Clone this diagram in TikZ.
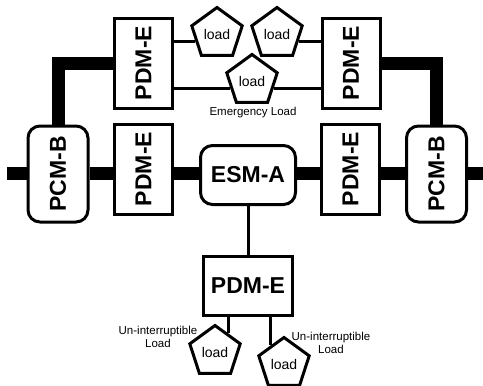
\documentclass[tikz,border=0pt]{standalone}
\usepackage{fontspec}
\setmainfont{Liberation Sans}
\usepackage{graphicx}
\usetikzlibrary{shapes.geometric}

\begin{document}
\begin{tikzpicture}[x=1pt,y=-1pt,
    box/.style={draw,line width=3pt,inner sep=0pt,font=\fontsize{23}{23}\selectfont\bfseries},
    pdm/.style={box,minimum width=58,minimum height=90},
    pcm/.style={box,rounded corners=12pt,minimum width=60,minimum height=96},
    load/.style={draw,line width=3pt,regular polygon,regular polygon sides=5,minimum size=53,inner sep=0pt,font=\fontsize{14}{14}\selectfont},
    note/.style={align=center,inner sep=0pt,font=\fontsize{11.5}{12.5}\selectfont},
    bus/.style={line width=13pt},
    wire/.style={line width=3pt}]
    \useasboundingbox (0,0) rectangle (483,386);
    % modules
    \foreach \n/\x/\y in {pdmTL/143.5/63, pdmTR/351/63, pdmML/143.5/169, pdmMR/350.5/169}
      \node [pdm] (\n) at (\x,\y) {\rotatebox{90}{PDM-E}};
    \foreach \n/\x in {pcmL/58, pcmR/436.5}
      \node [pcm] (\n) at (\x,174) {\rotatebox{90}{PCM-B}};
    \node [box,rounded corners=12pt,minimum width=95,minimum height=59] (esm) at (248,175) {ESM-A};
    \node [box,minimum width=89,minimum height=59] (pdmB) at (248,286) {PDM-E};
    % loads
    \foreach \n/\x/\y in {loadA/217/34, loadB/277/34, loadC/252/81, loadD/215/352, loadE/284/364}
      \node [load] (\n) at (\x,\y) {load};
    \node [note] (noteC) at (253,113) {Emergency Load};
    \node [note] (noteD) at (158,337) {Un-interruptible\\Load};
    \node [note] (noteE) at (331,343) {Un-interruptible\\Load};
    % main bus
    \coordinate (busL) at (7,173);
    \coordinate (busR) at (483,173);
    \draw [bus] (busL) -- (busL -| pcmL.west);
    \foreach \a/\b in {pcmL/pdmML, pdmML/esm, esm/pdmMR, pdmMR/pcmR}
      \draw [bus] (\a.east |- busL) -- (\b.west |- busL);
    \draw [bus] (pcmR.east |- busL) -- (busR);
    \draw [bus] (pcmL.north) |- (pdmTL.west);
    \draw [bus] (pdmTR.east) -| (pcmR.north);
    % load feeders
    \draw [wire] (pdmTL.east |- loadA.side 2) -- (loadA.side 2);
    \draw [wire] (pdmTR.west |- loadB.side 4) -- (loadB.side 4);
    \draw [wire] (pdmTL.east |- loadC.side 2) -- (loadC.side 2);
    \draw [wire] (pdmTR.west |- loadC.side 4) -- (loadC.side 4);
    \draw [wire] (esm) -- (pdmB);
    \draw [wire] (loadD.side 5 |- pdmB.south) -- (loadD.side 5);
    \draw [wire] (loadE.side 1 |- pdmB.south) -- (loadE.side 1);
\end{tikzpicture}
\end{document}
